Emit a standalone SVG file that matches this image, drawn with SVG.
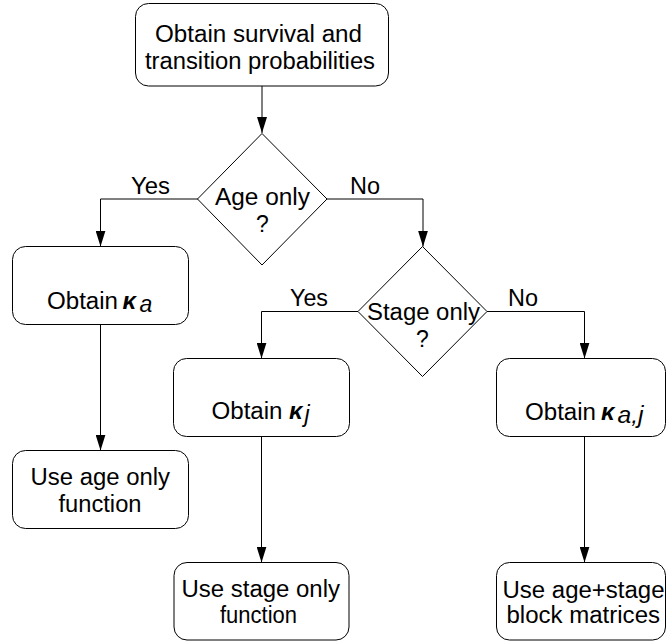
<svg xmlns="http://www.w3.org/2000/svg" width="667" height="641" viewBox="0 0 667 641">
<style>
.box{fill:#fff;stroke:#000;stroke-width:1}
.dia{fill:#fff;stroke:#000;stroke-width:1}
.t{font-family:"Liberation Sans",Arial,sans-serif;font-size:23px;fill:#000}
.k{font-weight:bold;font-style:italic;font-size:24px}
.s{font-style:italic}
.c{fill:none;stroke:#000;stroke-width:1}
</style>
<defs>
<marker id="ah" viewBox="0 0 16 10" refX="16" refY="5" markerWidth="16" markerHeight="10" markerUnits="userSpaceOnUse" orient="auto">
<path d="M0,0 L16,5 L0,10 z" fill="#000"/>
</marker>
</defs>
<g id="connectors">
<path class="c" d="M262,86 V133" marker-end="url(#ah)"/>
<path class="c" d="M198,199 H100.5 V246.5" marker-end="url(#ah)"/>
<path class="c" d="M327,199 H423 V246.5" marker-end="url(#ah)"/>
<path class="c" d="M100.5,324.5 V450.5" marker-end="url(#ah)"/>
<path class="c" d="M358,311.5 H261.5 V358.5" marker-end="url(#ah)"/>
<path class="c" d="M487,311.5 H584.5 V358.5" marker-end="url(#ah)"/>
<path class="c" d="M261.5,436.5 V562.5" marker-end="url(#ah)"/>
<path class="c" d="M584.5,436.5 V562.5" marker-end="url(#ah)"/>
<text class="t" x="131" y="194" textLength="39" lengthAdjust="spacingAndGlyphs">Yes</text>
<text class="t" x="350" y="194" textLength="30" lengthAdjust="spacingAndGlyphs">No</text>
<text class="t" x="290" y="305.5" textLength="38" lengthAdjust="spacingAndGlyphs">Yes</text>
<text class="t" x="508" y="305.5" textLength="30" lengthAdjust="spacingAndGlyphs">No</text>
</g>
<g id="start">
<rect class="box" x="135.5" y="3.5" width="253" height="82.5" rx="13"/>
<text class="t" x="155" y="41.5" textLength="207" lengthAdjust="spacingAndGlyphs">Obtain survival and</text>
<text class="t" x="145" y="68.5" textLength="230" lengthAdjust="spacingAndGlyphs">transition probabilities</text>
</g>
<g id="age-only">
<polygon class="dia" points="262,133.5 327,199 262,265 197.5,199"/>
<text class="t" x="215" y="205" textLength="95" lengthAdjust="spacingAndGlyphs">Age only</text>
<text class="t" x="262.5" y="231.5" text-anchor="middle">?</text>
</g>
<g id="stage-only">
<polygon class="dia" points="422.5,246.5 487,311.5 422.5,376.5 358,311.5"/>
<text class="t" x="367" y="319.5" textLength="113" lengthAdjust="spacingAndGlyphs">Stage only</text>
<text class="t" x="422.5" y="347" text-anchor="middle">?</text>
</g>
<g id="kappa-a">
<rect class="box" x="12.5" y="246.5" width="176" height="78" rx="13"/>
<text class="t" x="47" y="309" textLength="71" lengthAdjust="spacingAndGlyphs">Obtain</text>
<text class="t k" x="122.5" y="309">κ</text>
<text class="t s" x="139.5" y="312">a</text>
</g>
<g id="age-func">
<rect class="box" x="12.5" y="450.5" width="176" height="78" rx="13"/>
<text class="t" x="30.5" y="485" textLength="139.5" lengthAdjust="spacingAndGlyphs">Use age only</text>
<text class="t" x="58.5" y="511.5" textLength="83" lengthAdjust="spacingAndGlyphs">function</text>
</g>
<g id="kappa-j">
<rect class="box" x="173.5" y="358.5" width="176" height="78" rx="13"/>
<text class="t" x="211.5" y="419" textLength="71" lengthAdjust="spacingAndGlyphs">Obtain</text>
<text class="t k" x="289" y="419">κ</text>
<text class="t s" x="304.5" y="422">j</text>
</g>
<g id="kappa-aj">
<rect class="box" x="496.5" y="358.5" width="169" height="78" rx="13"/>
<text class="t" x="525" y="420" textLength="71" lengthAdjust="spacingAndGlyphs">Obtain</text>
<text class="t k" x="601" y="420">κ</text>
<text class="t s" x="617.5" y="423" textLength="26" lengthAdjust="spacingAndGlyphs">a,j</text>
</g>
<g id="stage-func">
<rect class="box" x="174" y="562.5" width="175" height="77.5" rx="13"/>
<text class="t" x="181.5" y="597" textLength="158.5" lengthAdjust="spacingAndGlyphs">Use stage only</text>
<text class="t" x="220" y="622.5" textLength="77" lengthAdjust="spacingAndGlyphs">function</text>
</g>
<g id="block-func">
<rect class="box" x="496.5" y="562.5" width="169" height="77.5" rx="13"/>
<text class="t" x="502.5" y="597.5" textLength="162" lengthAdjust="spacingAndGlyphs">Use age+stage</text>
<text class="t" x="506.5" y="622.5" textLength="153.5" lengthAdjust="spacingAndGlyphs">block matrices</text>
</g>
</svg>
